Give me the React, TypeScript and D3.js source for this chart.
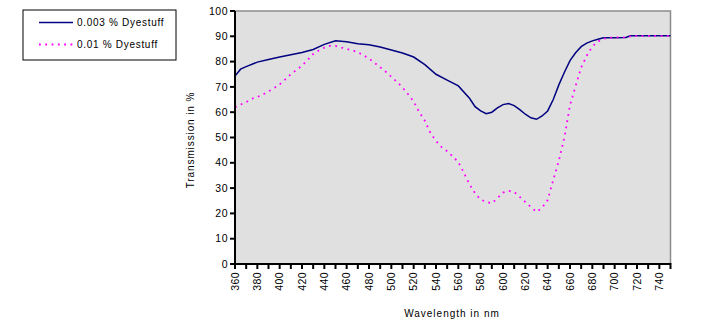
import React from "react";
import * as d3 from "d3";

const wlDilute = [360, 365, 370, 380, 390, 400, 410, 420, 430, 440, 450, 460, 470, 480, 490, 500, 510, 520, 530, 540, 550, 560, 570, 575, 580, 585, 590, 595, 600, 605, 610, 615, 620, 625, 630, 635, 640, 645, 650, 655, 660, 665, 670, 675, 680, 685, 690, 700, 710, 714, 720, 730, 740, 750];
const tDilute = [74.3, 77, 78, 79.8, 80.8, 81.8, 82.7, 83.6, 84.8, 86.8, 88.2, 87.8, 87.1, 86.7, 85.8, 84.6, 83.4, 81.8, 78.8, 75, 72.7, 70.4, 65.5, 62.2, 60.5, 59.4, 60, 61.7, 63, 63.4, 62.6, 61, 59.2, 57.8, 57.2, 58.5, 60.5, 65, 70.8, 75.8, 80.4, 83.5, 85.9, 87.3, 88.2, 88.8, 89.4, 89.4, 89.5, 90.2, 90.2, 90.2, 90.2, 90.2];

const wlConc = [360, 365, 370, 375, 380, 385, 390, 395, 400, 405, 410, 415, 420, 425, 430, 435, 440, 445, 450, 455, 460, 465, 470, 475, 480, 485, 490, 495, 500, 505, 510, 515, 520, 525, 530, 535, 540, 545, 550, 555, 560, 565, 570, 575, 580, 585, 590, 595, 600, 605, 610, 615, 620, 625, 630, 635, 640, 645, 650, 655, 660, 665, 670, 675, 680, 685, 690, 695, 700, 705, 710, 715, 720, 730, 740, 750];
const tConc = [62, 63, 64, 65.3, 66, 67, 68.2, 69.5, 71, 73, 75, 76.7, 78.4, 80.6, 83, 84.4, 85.5, 86.2, 86.2, 85.6, 85, 84.5, 83.7, 82.5, 81.2, 79.5, 77.8, 76, 74, 72, 69.8, 67.1, 64.2, 60, 56.6, 51.8, 48.6, 46.2, 44.6, 42.5, 40.3, 36, 31.5, 27.9, 25.5, 24.5, 24, 26, 28.2, 28.9, 28.5, 26.5, 24.5, 22.5, 20.6, 22.2, 25.3, 33.2, 40.8, 50, 62.8, 70.3, 77.7, 82.3, 86, 87.9, 89, 89.4, 89.6, 89.6, 89.6, 90, 90.2, 90.2, 90.2, 90.2];

const xTicks = [360, 370, 380, 390, 400, 410, 420, 430, 440, 450, 460, 470, 480, 490, 500, 510, 520, 530, 540, 550, 560, 570, 580, 590, 600, 610, 620, 630, 640, 650, 660, 670, 680, 690, 700, 710, 720, 730, 740, 750];
const xLabels = [360, 380, 400, 420, 440, 460, 480, 500, 520, 540, 560, 580, 600, 620, 640, 660, 680, 700, 720, 740];
const yTicks = [0, 10, 20, 30, 40, 50, 60, 70, 80, 90, 100];

const seriesNames = ["0.003 % Dyestuff", "0.01 % Dyestuff"];
const xTitle = "Wavelength in nm";
const yTitle = "Transmission in %";

const FONT = "'Liberation Sans', Arial, sans-serif";

export default function App() {
  const left = 235, right = 670.5, top = 11, bottom = 264;
  const x = d3.scaleLinear().domain([360, 750]).range([left, right]);
  const y = d3.scaleLinear().domain([0, 100]).range([bottom, top]);
  const line = d3.line<[number, number]>().x(d => x(d[0])).y(d => y(d[1]));
  const p1 = line(wlDilute.map((w, i) => [w, tDilute[i]] as [number, number])) || "";
  const p2 = line(wlConc.map((w, i) => [w, tConc[i]] as [number, number])) || "";

  return (
    <svg width={727} height={336} style={{ position: "absolute", left: 0, top: 0, background: "#fff" }}>
      <rect x={left} y={top} width={right - left} height={bottom - top} fill="#e0e0e0" />
      <path d={`M${left},${top}H${right}V${bottom}`} fill="none" stroke="#8c8c8c" strokeWidth={1.5} />
      <path d={p1} fill="none" stroke="#000080" strokeWidth={1.5} />
      <path d={p2} fill="none" stroke="#ff00ff" strokeWidth={1.8} strokeDasharray="1.8,4.5" />
      <line x1={left} x2={left} y1={top} y2={bottom + 1} stroke="#000" strokeWidth={2} />
      <line x1={left - 1} x2={right} y1={bottom} y2={bottom} stroke="#000" strokeWidth={2} />
      {yTicks.map(t => (
        <g key={"y" + t}>
          <line x1={left - 5} x2={left} y1={y(t)} y2={y(t)} stroke="#000" strokeWidth={2} />
          <text x={left - 7} y={y(t)} dy="0.35em" textAnchor="end" fontFamily={FONT} fontSize={10.5} letterSpacing={0.5} fill="#000">{t}</text>
        </g>
      ))}
      {xTicks.map(t => (
        <line key={"xt" + t} x1={x(t)} x2={x(t)} y1={bottom - 1} y2={bottom + 5} stroke="#000" strokeWidth={2} />
      ))}
      {xLabels.map(t => (
        <text key={"xl" + t} transform={`translate(${x(t)},${bottom + 8}) rotate(-90)`} dy="0.35em" textAnchor="end" fontFamily={FONT} fontSize={10.5} letterSpacing={0.4} fill="#000">{t}</text>
      ))}
      <text x={452} y={317} textAnchor="middle" fontFamily={FONT} fontSize={10} letterSpacing={1} fill="#000">{xTitle}</text>
      <text transform={`translate(190,140) rotate(-90)`} textAnchor="middle" dy="0.35em" fontFamily={FONT} fontSize={10} letterSpacing={0.9} fill="#000">{yTitle}</text>
      <rect x={23} y={10} width={153} height={50} fill="#fff" stroke="#000" strokeWidth={1} />
      <line x1={39} x2={73} y1={22.5} y2={22.5} stroke="#000080" strokeWidth={1.5} />
      <line x1={39} x2={73} y1={44.5} y2={44.5} stroke="#ff00ff" strokeWidth={1.8} strokeDasharray="1.8,4.5" />
      <text x={77} y={22.5} dy="0.35em" fontFamily={FONT} fontSize={10} letterSpacing={0.7} fill="#000">{seriesNames[0]}</text>
      <text x={77} y={44.5} dy="0.35em" fontFamily={FONT} fontSize={10} letterSpacing={0.7} fill="#000">{seriesNames[1]}</text>
    </svg>
  );
}
